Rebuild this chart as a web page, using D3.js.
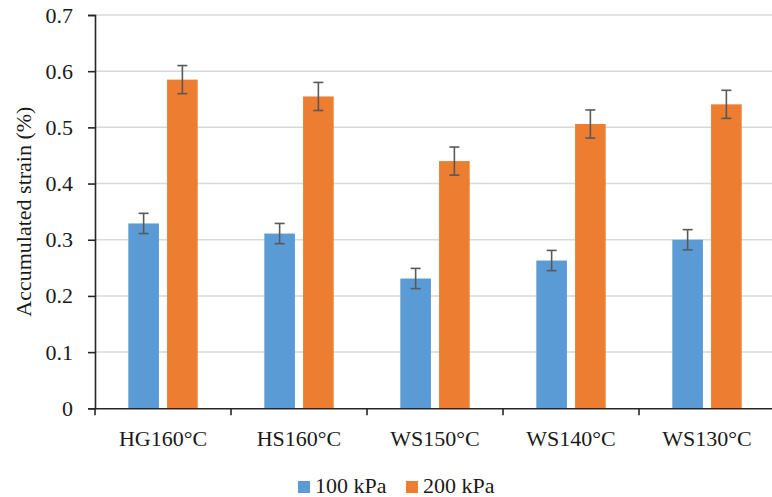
<!DOCTYPE html>
<html lang="en">
<head>
    <meta charset="UTF-8">
    <title>accumulated strain</title>
    <script src="https://cdn.jsdelivr.net/npm/d3@7"></script>
    <style>
        body { margin: 0; background: #fff; }
        text { font-family: "Liberation Serif", "DejaVu Serif", serif; fill: #1a1a1a; }
    </style>
</head>
<body>
    <script>
        const categories = ['HG160°C', 'HS160°C', 'WS150°C', 'WS140°C', 'WS130°C'];
        const series = ['100 kPa', '200 kPa'];
        const strain100 = [0.329, 0.311, 0.231, 0.263, 0.300];
        const strain200 = [0.585, 0.555, 0.440, 0.506, 0.541];
        const err100 = [0.018, 0.018, 0.018, 0.018, 0.018];
        const err200 = [0.025, 0.025, 0.025, 0.025, 0.025];
        const yTicks = [0, 0.1, 0.2, 0.3, 0.4, 0.5, 0.6, 0.7];

        const width = 772, height = 497;
        const margin = {top: 15, left: 95, bottom: 88, right: -3};
        const colors = ['#5B9BD5', '#ED7D31'];
        const fs = 22;

        const rows = categories.map((c, i) => ({
            cat: c,
            vals: [
                {s: series[0], v: strain100[i], e: err100[i]},
                {s: series[1], v: strain200[i], e: err200[i]}
            ]
        }));

        const svg = d3.select('body').append('svg')
            .attr('width', width)
            .attr('height', height);

        const x0 = d3.scaleBand().domain(categories)
            .range([margin.left, width - margin.right]).padding(0);
        const x1 = d3.scaleBand().domain(series)
            .range([0, x0.bandwidth()]).paddingInner(0.21).paddingOuter(0.86);
        const y = d3.scaleLinear().domain([0, 0.7])
            .range([height - margin.bottom - 0.7, margin.top]);

        // grid
        svg.append('g').selectAll('line').data(yTicks.slice(1)).enter().append('line')
            .attr('x1', margin.left).attr('x2', width)
            .attr('y1', d => y(d)).attr('y2', d => y(d))
            .attr('stroke', '#d9d9d9').attr('stroke-width', 1.5);

        // bars
        const g = svg.append('g').selectAll('g').data(rows).enter().append('g')
            .attr('transform', d => `translate(${x0(d.cat)},0)`);
        g.selectAll('rect').data(d => d.vals).enter().append('rect')
            .attr('x', d => x1(d.s))
            .attr('width', x1.bandwidth())
            .attr('y', d => y(d.v))
            .attr('height', d => y(0) - y(d.v))
            .attr('fill', (d, i) => colors[i]);

        // error bars
        const eb = g.selectAll('.eb').data(d => d.vals).enter().append('g')
            .attr('class', 'eb')
            .attr('stroke', '#595959').attr('stroke-width', 1.6);
        eb.append('line')
            .attr('x1', d => x1(d.s) + x1.bandwidth() / 2)
            .attr('x2', d => x1(d.s) + x1.bandwidth() / 2)
            .attr('y1', d => y(d.v + d.e)).attr('y2', d => y(d.v - d.e));
        eb.selectAll('.cap').data(d => [[d, d.v + d.e], [d, d.v - d.e]]).enter().append('line')
            .attr('x1', d => x1(d[0].s) + x1.bandwidth() / 2 - 5)
            .attr('x2', d => x1(d[0].s) + x1.bandwidth() / 2 + 5)
            .attr('y1', d => y(d[1])).attr('y2', d => y(d[1]));

        // y axis
        const yAxis = svg.append('g')
            .attr('transform', `translate(${margin.left},0)`)
            .call(d3.axisLeft(y).tickValues(yTicks).tickSize(7).tickPadding(15)
                .tickFormat(d => d === 0 ? '0' : d3.format('.1f')(d)));
        yAxis.select('.domain').attr('stroke', '#262626').attr('stroke-width', 1.6);
        yAxis.selectAll('.tick line').attr('stroke', '#262626').attr('stroke-width', 1.6);
        yAxis.selectAll('text').attr('font-size', fs).attr('font-family', '"Liberation Serif", serif').attr('fill', '#1a1a1a');

        // x axis
        const xAxis = svg.append('g')
            .attr('transform', `translate(0,${y(0)})`)
            .call(d3.axisBottom(x0).tickSize(0).tickPadding(22));
        xAxis.select('.domain').attr('stroke', '#262626').attr('stroke-width', 1.6);
        xAxis.selectAll('text').attr('font-size', fs).attr('font-family', '"Liberation Serif", serif').attr('fill', '#1a1a1a');
        const bounds = categories.map(c => x0(c)).concat([width - margin.right]);
        svg.append('g').selectAll('line').data(bounds).enter().append('line')
            .attr('x1', d => d).attr('x2', d => d)
            .attr('y1', y(0)).attr('y2', y(0) + 7)
            .attr('stroke', '#262626').attr('stroke-width', 1.6);

        // y title
        svg.append('text')
            .attr('transform', `translate(31,${(y(0) + y(0.7)) / 2}) rotate(-90)`)
            .attr('text-anchor', 'middle')
            .attr('font-size', fs)
            .text('Accumulated strain (%)');

        // legend
        const legX = [298, 406];
        const leg = svg.append('g').selectAll('g').data(series).enter().append('g')
            .attr('transform', (d, i) => `translate(${legX[i]},481)`);
        leg.append('rect').attr('width', 12).attr('height', 12)
            .attr('fill', (d, i) => colors[i]);
        leg.append('text').attr('x', 17).attr('y', 12)
            .attr('font-size', fs).text(d => d);
    </script>
</body>
</html>
